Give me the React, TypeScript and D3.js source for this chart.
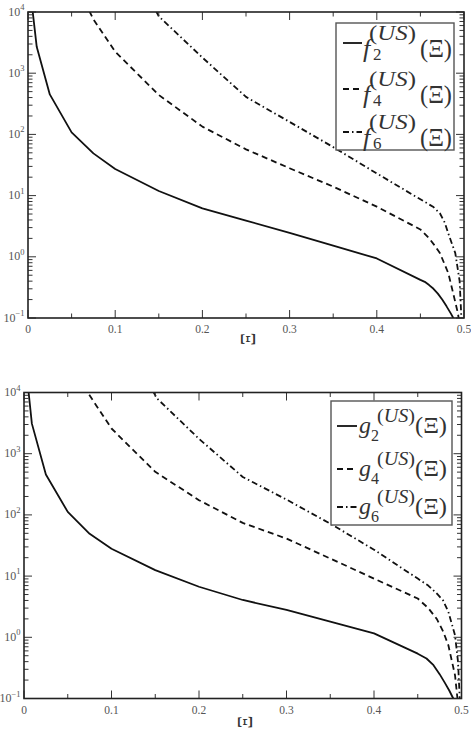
import React from "react";
import * as d3 from "d3";

// upper panel, f_n^(US)(Xi)
const xiF2 = [0.004, 0.01, 0.025, 0.05, 0.075, 0.1, 0.15, 0.2, 0.25, 0.3, 0.35, 0.4, 0.45, 0.455, 0.46, 0.465, 0.47, 0.475, 0.48, 0.485, 0.4877, 0.491];
const valF2 = [15000, 2700, 450, 108, 49, 27.2, 11.9, 6.2, 3.9, 2.47, 1.52, 0.94, 0.42, 0.39, 0.345, 0.3, 0.25, 0.2, 0.155, 0.118, 0.1, 0.075];
const xiF4 = [0.05, 0.075, 0.1, 0.15, 0.2, 0.25, 0.3, 0.35, 0.4, 0.45, 0.46, 0.466, 0.4725, 0.482, 0.4877, 0.493, 0.497];
const valF4 = [40000, 7600, 2245, 441, 134, 57, 28, 14, 6.6, 2.8, 2.0, 1.55, 1.14, 0.54, 0.25, 0.12, 0.05];
const xiF6 = [0.125, 0.15, 0.2, 0.25, 0.3, 0.35, 0.4, 0.45, 0.465, 0.4725, 0.478, 0.482, 0.49, 0.495, 0.498];
const valF6 = [40000, 8500, 1800, 410, 160, 62, 23, 8.7, 6.5, 5.1, 3.6, 2.4, 1.15, 0.4, 0.05];

// lower panel, g_n^(US)(Xi)
const xiG2 = [0.004, 0.009, 0.025, 0.05, 0.075, 0.1, 0.15, 0.2, 0.25, 0.3, 0.35, 0.4, 0.45, 0.46, 0.468, 0.475, 0.481, 0.486, 0.4906, 0.494];
const valG2 = [15000, 3100, 457, 112, 49, 28, 12.5, 6.7, 4.07, 2.8, 1.8, 1.16, 0.54, 0.45, 0.35, 0.25, 0.18, 0.135, 0.1, 0.07];
const xiG4 = [0.05, 0.0728, 0.1, 0.15, 0.2, 0.25, 0.3, 0.35, 0.4, 0.45, 0.462, 0.4717, 0.479, 0.485, 0.4926, 0.497];
const valG4 = [50000, 10000, 2580, 505, 174, 74, 41, 19.4, 9.1, 4.3, 3.0, 2.0, 1.25, 0.74, 0.24, 0.06];
const xiG6 = [0.125, 0.152, 0.2, 0.25, 0.3, 0.35, 0.4, 0.45, 0.462, 0.4717, 0.479, 0.485, 0.4926, 0.496, 0.499];
const valG6 = [40000, 8000, 1750, 417, 178, 72, 27, 9.1, 7.0, 5.2, 4.0, 2.6, 1.08, 0.4, 0.05];

const xTicks = [0, 0.1, 0.2, 0.3, 0.4, 0.5];
const xTickLabels = ["0", "0.1", "0.2", "0.3", "0.4", "0.5"];
const xMinor = [0.05, 0.15, 0.25, 0.35, 0.45];
const yExponents = [-1, 0, 1, 2, 3, 4];
const orders = ["2", "4", "6"];
const dashes = [null, "6,4", "6,3,1.5,3"];

const SERIF = "'Liberation Serif', 'Times New Roman', serif";

function drawPanel(svg, p) {
  const { left, right, top, bottom, id } = p;
  const x = d3.scaleLinear().domain([0, 0.5]).range([left, right]);
  const y = d3.scaleLog().domain([0.1, 10000]).range([bottom, top]);
  const g = svg.append("g");

  g.append("clipPath").attr("id", id).append("rect")
    .attr("x", left).attr("y", top).attr("width", right - left).attr("height", bottom - top);

  // curves
  const line = d3.line().x(d => x(d[0])).y(d => y(d[1]));
  p.series.forEach((s, i) => {
    const pts = s.xi.map((v, k) => [v, s.val[k]]);
    const path = g.append("path").attr("d", line(pts))
      .attr("clip-path", `url(#${id})`)
      .attr("fill", "none").attr("stroke", "#111").attr("stroke-width", 1.8)
      .attr("stroke-linejoin", "round");
    if (dashes[i]) path.attr("stroke-dasharray", dashes[i]);
  });

  // ticks on all four sides, pointing inwards
  const tk = g.append("g").attr("stroke", "#333").attr("stroke-width", 1);
  const xt = (v, len) => {
    tk.append("line").attr("x1", x(v)).attr("x2", x(v)).attr("y1", bottom).attr("y2", bottom - len);
    tk.append("line").attr("x1", x(v)).attr("x2", x(v)).attr("y1", top).attr("y2", top + len);
  };
  xTicks.forEach(v => xt(v, 8));
  xMinor.forEach(v => xt(v, 4.5));
  const yt = (v, len) => {
    tk.append("line").attr("x1", left).attr("x2", left + len).attr("y1", y(v)).attr("y2", y(v));
    tk.append("line").attr("x1", right).attr("x2", right - len).attr("y1", y(v)).attr("y2", y(v));
  };
  yExponents.forEach(e => {
    yt(Math.pow(10, e), 8);
    if (e < 4) d3.range(2, 10).forEach(k => yt(k * Math.pow(10, e), 4.5));
  });

  // frame
  g.append("rect").attr("x", left).attr("y", top).attr("width", right - left).attr("height", bottom - top)
    .attr("fill", "none").attr("stroke", "#222").attr("stroke-width", 1.6);

  // tick labels
  xTicks.forEach((v, i) => {
    g.append("text").attr("x", x(v)).attr("y", bottom + 15).attr("text-anchor", "middle")
      .attr("font-family", SERIF).attr("font-size", 11.5).attr("fill", "#555").text(xTickLabels[i]);
  });
  yExponents.forEach(e => {
    const t = g.append("text").attr("x", left - 3.5).attr("y", y(Math.pow(10, e)) + 3.5)
      .attr("text-anchor", "end").attr("font-family", SERIF).attr("font-size", 12).attr("fill", "#555");
    t.append("tspan").text("10");
    t.append("tspan").attr("dy", -5.5).attr("font-size", 8.5).text(e < 0 ? "\u2212" + (-e) : String(e));
  });

  // axis title, rotated Xi
  const cx = (left + right) / 2 + 2;
  g.append("text").attr("transform", `translate(${cx},${p.titleY}) rotate(-90)`)
    .attr("text-anchor", "middle").attr("dy", "0.35em")
    .attr("font-family", SERIF).attr("font-size", 20).attr("fill", "#333").text("\u039E");

  // legend
  const L = p.legend;
  const lg = g.append("g");
  lg.append("rect").attr("x", L.x).attr("y", L.y).attr("width", L.w).attr("height", L.h)
    .attr("fill", "white").attr("stroke", "#555").attr("stroke-width", 1.4);
  L.rows.forEach((ry, i) => {
    const ln = lg.append("line").attr("x1", L.s0).attr("x2", L.s1).attr("y1", ry).attr("y2", ry)
      .attr("stroke", "#111").attr("stroke-width", 1.8);
    if (dashes[i]) ln.attr("stroke-dasharray", dashes[i]);
    lg.append("text").attr("x", L.tx).attr("y", ry + L.mainDy).attr("font-family", SERIF)
      .attr("font-style", "italic").attr("font-size", L.mainSize).attr("fill", "#333").text(p.letter);
    const sup = lg.append("text").attr("x", L.supX).attr("y", ry + L.supDy)
      .attr("font-family", SERIF).attr("font-size", L.supSize).attr("fill", "#333")
      .attr("textLength", L.supW).attr("lengthAdjust", "spacingAndGlyphs");
    sup.append("tspan").text("(");
    sup.append("tspan").attr("font-style", "italic").text("US");
    sup.append("tspan").text(")");
    lg.append("text").attr("x", L.subX).attr("y", ry + L.subDy)
      .attr("font-family", SERIF).attr("font-size", L.subSize).attr("fill", "#333").text(orders[i]);
    lg.append("text").attr("x", L.px).attr("y", ry + L.mainDy).attr("font-family", SERIF)
      .attr("font-size", L.mainSize).attr("fill", "#333")
      .attr("textLength", L.pW).attr("lengthAdjust", "spacingAndGlyphs").text("(\u039E)");
  });
}

export default function App() {
  const svgRef = React.useRef(null);

  React.useEffect(() => {
    const svg = d3.select(svgRef.current);
    svg.selectAll("*").remove();

    drawPanel(svg, {
      id: "clipTop", left: 28, right: 464, top: 12, bottom: 318, titleY: 339, letter: "f",
      series: [{ xi: xiF2, val: valF2 }, { xi: xiF4, val: valF4 }, { xi: xiF6, val: valF6 }],
      legend: {
        x: 336, y: 23, w: 118, h: 127, s0: 343, s1: 362, rows: [43, 89, 132],
        tx: 363, mainDy: 14, mainSize: 26,
        supX: 369, supDy: -3, supSize: 20, supW: 47,
        subX: 373, subDy: 17, subSize: 17,
        px: 420, pW: 32
      }
    });
    drawPanel(svg, {
      id: "clipBottom", left: 24, right: 461.5, top: 392.5, bottom: 698.5, titleY: 722, letter: "g",
      series: [{ xi: xiG2, val: valG2 }, { xi: xiG4, val: valG4 }, { xi: xiG6, val: valG6 }],
      legend: {
        x: 331, y: 401, w: 121, h: 124, s0: 337, s1: 357, rows: [426, 469, 507],
        tx: 359, mainDy: 7, mainSize: 24,
        supX: 377, supDy: -4, supSize: 18, supW: 38,
        subX: 371, subDy: 15, subSize: 16,
        px: 415, pW: 32
      }
    });
  }, []);

  return <svg ref={svgRef} width={471} height={732}
    style={{ position: "absolute", left: 0, top: 0, background: "white" }} />;
}
